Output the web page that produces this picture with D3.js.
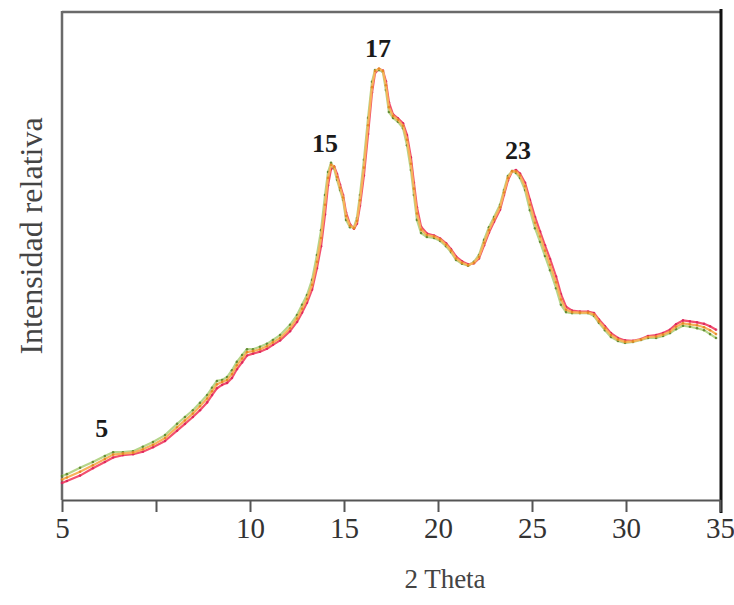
<!DOCTYPE html>
<html>
<head>
<meta charset="utf-8">
<script src="https://cdn.jsdelivr.net/npm/d3@7"></script>
<style>
  body { margin: 0; background: #fff; }
</style>
</head>
<body>
<svg id="xrd"></svg>
<script>
// 2 theta positions (degrees)
const theta = [
  5.00, 5.13, 5.48, 5.82, 6.14, 6.36, 6.62, 6.89, 7.15, 7.42,
  7.74, 8.06, 8.27, 8.48, 8.67, 8.86, 8.99, 9.12, 9.26, 9.39,
  9.52, 9.65, 9.79, 9.92, 10.16, 10.53, 10.90, 11.22, 11.60, 12.13,
  12.50, 12.77, 13.03, 13.30, 13.56, 13.78, 13.99, 14.15, 14.31, 14.47,
  14.63, 14.79, 14.95, 15.11, 15.32, 15.53, 15.69, 15.85, 16.06, 16.28,
  16.49, 16.65, 16.86, 17.07, 17.23, 17.39, 17.61, 17.87, 18.14, 18.35,
  18.56, 18.72, 18.88, 19.10, 19.41, 19.79, 20.11, 20.43, 20.69, 20.96,
  21.28, 21.60, 21.91, 22.18, 22.45, 22.71, 22.98, 23.30, 23.51, 23.72,
  23.94, 24.15, 24.36, 24.63, 24.89, 25.16, 25.43, 25.69, 25.96, 26.28,
  26.54, 26.81, 27.13, 27.55, 27.98, 28.30, 28.56, 28.88, 29.20, 29.57,
  29.95, 30.37, 30.80, 31.17, 31.60, 31.97, 32.34, 32.66, 33.03, 33.40,
  33.78, 34.15, 34.47, 34.79
];

// relative intensity (0-100) for each trace
const greenTrace = [
  4.9, 5.3, 6.6, 7.8, 9.0, 9.8, 9.8, 10.0, 10.9, 11.9,
  13.3, 15.6, 17.0, 18.4, 19.9, 21.5, 23.0, 24.4, 24.6, 25.2,
  26.6, 28.3, 29.7, 30.9, 30.9, 31.4, 32.0, 32.8, 33.8, 35.9,
  37.9, 40.0, 42.0, 45.1, 50.2, 55.3, 62.5, 67.2, 69.1, 68.0,
  65.6, 63.5, 61.5, 57.4, 55.9, 55.9, 57.8, 62.5, 69.7, 78.3,
  85.7, 88.1, 88.1, 87.7, 84.0, 79.5, 78.3, 77.5, 76.2, 72.7,
  67.6, 62.5, 57.4, 54.7, 53.9, 53.7, 53.1, 52.0, 50.8, 49.2,
  48.4, 48.0, 48.8, 50.2, 53.3, 55.9, 58.0, 60.5, 63.5, 66.4,
  67.4, 67.0, 66.0, 63.5, 59.4, 55.7, 52.9, 50.0, 47.1, 43.4,
  40.0, 38.5, 38.3, 38.3, 38.3, 37.7, 36.3, 34.8, 33.4, 32.6,
  32.2, 32.4, 32.8, 33.2, 33.2, 33.6, 34.2, 35.0, 35.7, 35.5,
  35.2, 34.8, 34.0, 33.2
];
const orangeTrace = [
  4.2, 4.6, 5.8, 7.1, 8.4, 9.3, 9.5, 9.7, 10.4, 11.3,
  12.7, 14.9, 16.3, 17.7, 19.2, 20.8, 22.3, 23.7, 24.2, 24.6,
  25.8, 27.6, 29.0, 30.3, 30.5, 30.9, 31.5, 32.3, 33.2, 35.2,
  37.2, 39.2, 41.2, 44.1, 48.8, 53.7, 60.5, 66.0, 68.7, 68.3,
  66.2, 64.0, 62.0, 58.2, 56.2, 55.7, 57.2, 61.4, 68.1, 76.8,
  84.6, 87.9, 88.4, 87.9, 85.0, 80.5, 78.7, 77.9, 76.7, 73.8,
  68.9, 63.8, 58.7, 55.4, 54.3, 54.0, 53.4, 52.3, 51.1, 49.5,
  48.6, 48.1, 48.6, 49.8, 52.7, 55.3, 57.5, 60.0, 63.0, 66.0,
  67.4, 67.3, 66.5, 64.3, 60.5, 56.8, 54.0, 51.1, 48.2, 44.6,
  41.1, 39.0, 38.5, 38.4, 38.4, 38.0, 36.6, 35.2, 33.8, 32.9,
  32.4, 32.5, 32.9, 33.4, 33.5, 33.9, 34.5, 35.5, 36.2, 36.0,
  35.8, 35.4, 34.8, 34.0
];
const redTrace = [
  3.5, 3.9, 5.0, 6.5, 7.8, 8.7, 9.2, 9.4, 9.9, 10.8,
  12.1, 14.2, 15.6, 17.0, 18.4, 20.0, 21.5, 22.9, 23.6, 24.0,
  25.0, 26.8, 28.2, 29.6, 30.0, 30.4, 31.0, 31.8, 32.7, 34.6,
  36.5, 38.4, 40.4, 43.1, 47.5, 52.0, 58.5, 64.5, 67.8, 68.4,
  66.8, 64.6, 62.5, 58.9, 56.5, 55.6, 56.6, 60.3, 66.5, 75.0,
  83.5, 87.5, 88.3, 88.0, 85.8, 81.5, 79.0, 78.2, 77.2, 74.8,
  70.2, 65.0, 60.0, 56.0, 54.6, 54.2, 53.6, 52.6, 51.4, 49.9,
  48.9, 48.3, 48.5, 49.5, 52.2, 54.8, 57.0, 59.5, 62.5, 65.5,
  67.3, 67.6, 66.9, 65.0, 61.5, 58.0, 55.0, 52.2, 49.4, 45.8,
  42.2, 39.6, 38.8, 38.6, 38.6, 38.3, 37.0, 35.6, 34.2, 33.2,
  32.7, 32.6, 33.0, 33.6, 33.8, 34.2, 34.9, 36.0, 36.8, 36.6,
  36.4, 36.1, 35.6, 34.9
];

const tickValues = [5, 7.5, 10, 15, 20, 25, 30, 35];
const peakLabels = [
  {text: "5", x: 6.06, y: 14.8},
  {text: "15", x: 13.99, y: 73.2},
  {text: "17", x: 16.81, y: 92.6},
  {text: "23", x: 24.26, y: 71.7}
];

const width = 734, height = 605;
const plotLeft = 62, plotRight = 720, plotTop = 12, plotBottom = 500;
const serif = "'Liberation Serif', 'DejaVu Serif', serif";

// the original axis puts 5 and 10 two ticks apart, so the scale is piecewise
const x = d3.scaleLinear().domain([5, 10, 35]).range([plotLeft, 250, plotRight]);
const y = d3.scaleLinear().domain([0, 100]).range([plotBottom, plotTop]);

const svg = d3.select("#xrd")
              .attr("width", width)
              .attr("height", height)
              .attr("font-family", serif);

// frame: grey left/top, black right edge
svg.append("line")
   .attr("x1", plotLeft).attr("x2", plotRight).attr("y1", plotTop).attr("y2", plotTop)
   .attr("stroke", "#6a6a6a").attr("stroke-width", 2.5);
svg.append("line")
   .attr("x1", plotLeft).attr("x2", plotLeft).attr("y1", plotTop - 1).attr("y2", plotBottom)
   .attr("stroke", "#6a6a6a").attr("stroke-width", 2.5);
svg.append("line")
   .attr("x1", plotRight + 1).attr("x2", plotRight + 1).attr("y1", plotTop - 3).attr("y2", plotBottom + 13)
   .attr("stroke", "#111").attr("stroke-width", 3);

const xAxis = d3.axisBottom(x)
                .tickValues(tickValues)
                .tickSize(12)
                .tickPadding(5)
                .tickSizeOuter(0)
                .tickFormat(d => d === 7.5 ? "" : d);

const gx = svg.append("g")
              .attr("transform", `translate(0, ${plotBottom})`)
              .call(xAxis)
              .attr("font-family", serif);
gx.select(".domain").attr("stroke", "#555").attr("stroke-width", 2);
gx.selectAll(".tick line").attr("stroke", "#555").attr("stroke-width", 2);
gx.selectAll(".tick text")
  .attr("fill", "#333")
  .attr("font-size", 29);

svg.append("text")
   .attr("x", 445)
   .attr("y", 588)
   .attr("text-anchor", "middle")
   .attr("font-size", 27)
   .attr("fill", "#444")
   .text("2 Theta");

svg.append("text")
   .attr("transform", `translate(42, 236) rotate(-90)`)
   .attr("text-anchor", "middle")
   .attr("font-size", 32)
   .attr("fill", "#444")
   .text("Intensidad relativa");

const series = [
  {name: "red", values: redTrace, line: "#f2506e", dot: "#d81e5a"},
  {name: "green", values: greenTrace, line: "#b5d58a", dot: "#4f7a1e"},
  {name: "orange", values: orangeTrace, line: "#f7b25a", dot: "#e0801a"}
];

const line = d3.line()
               .x((d, i) => x(theta[i]))
               .y(d => y(d))
               .curve(d3.curveLinear);

const traces = svg.append("g")
                  .selectAll("g")
                  .data(series)
                  .join("g");

traces.append("path")
      .attr("d", s => line(s.values))
      .attr("fill", "none")
      .attr("stroke", s => s.line)
      .attr("stroke-width", 2.2)
      .attr("stroke-linejoin", "round");

traces.selectAll("circle")
      .data(s => s.values.map((v, i) => ({v, i, c: s.dot})))
      .join("circle")
      .attr("cx", d => x(theta[d.i]))
      .attr("cy", d => y(d.v))
      .attr("r", 1.3)
      .attr("fill", d => d.c)
      .attr("opacity", 0.8);

svg.append("g")
   .selectAll("text")
   .data(peakLabels)
   .join("text")
   .attr("x", d => x(d.x))
   .attr("y", d => y(d.y))
   .attr("dy", "0.35em")
   .attr("text-anchor", "middle")
   .attr("font-size", 26)
   .attr("font-weight", "bold")
   .attr("fill", "#1a1a1a")
   .text(d => d.text);
</script>
</body>
</html>
